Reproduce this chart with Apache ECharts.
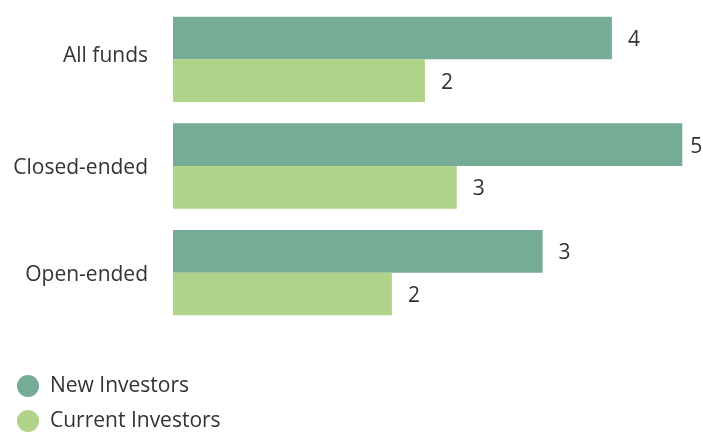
<!DOCTYPE html>
<html>
<head>
<meta charset="utf-8">
<script src="https://cdn.jsdelivr.net/npm/echarts@6/dist/echarts.min.js"></script>
<style>
  html, body { margin: 0; padding: 0; background: #ffffff; }
  #chart { width: 703px; height: 432px; }
</style>
</head>
<body>
<div id="chart"></div>
<script>
// Fund categories, top to bottom
const categories = ['All funds', 'Closed-ended', 'Open-ended'];
// Series values (labels show them rounded to whole numbers)
const newInvestors = [3.99, 4.63, 3.36];
const currentInvestors = [2.29, 2.58, 1.99];
const seriesNames = ['New Investors', 'Current Investors'];

const FONT = '"Open Sans", "Noto Sans", sans-serif';
const TEXT = '#333333';
const FS = 21;
const AXIS_MAX = 4.8;

const chart = echarts.init(document.getElementById('chart'), null, { renderer: 'canvas' });

const valueLabel = {
  show: true,
  position: 'right',
  distance: 16,
  offset: [0, 2],
  color: TEXT,
  fontFamily: FONT,
  fontSize: FS,
  formatter: p => String(Math.round(p.value))
};

// Bars reaching close to the right edge get their label tucked in tighter
const toData = arr => arr.map(v => (v / AXIS_MAX > 0.95 ? { value: v, label: { distance: 8 } } : v));

chart.setOption({
  animation: false,
  backgroundColor: '#ffffff',
  grid: { left: 173, top: 6, width: 528, height: 320 },
  legend: {
    orient: 'vertical',
    left: 17,
    top: 375,
    padding: 0,
    itemGap: 13,
    itemWidth: 22,
    itemHeight: 22,
    icon: 'circle',
    textStyle: { color: TEXT, fontFamily: FONT, fontSize: FS, padding: [0, 0, 0, 6] },
    data: seriesNames
  },
  xAxis: {
    type: 'value',
    min: 0,
    max: AXIS_MAX,
    show: false
  },
  yAxis: {
    type: 'category',
    inverse: true,
    data: categories,
    axisLine: { show: false },
    axisTick: { show: false },
    axisLabel: {
      color: TEXT,
      fontFamily: FONT,
      fontSize: FS,
      margin: 25,
      formatter: (v, i) => (i === 0 ? '{top|' + v + '}' : '{mid|' + v + '}'),
      rich: {
        top: { color: TEXT, fontFamily: FONT, fontSize: FS, padding: [0, 0, 7, 0] },
        mid: { color: TEXT, fontFamily: FONT, fontSize: FS, padding: [4, 0, 0, 0] }
      }
    }
  },
  series: [
    {
      name: seriesNames[0],
      type: 'bar',
      data: toData(newInvestors),
      barGap: '0%',
      barCategoryGap: '20%',
      itemStyle: { color: '#76ab95' },
      label: valueLabel
    },
    {
      name: seriesNames[1],
      type: 'bar',
      data: toData(currentInvestors),
      barGap: '0%',
      barCategoryGap: '20%',
      itemStyle: { color: '#b0d38a' },
      label: valueLabel
    }
  ]
});
</script>
</body>
</html>
